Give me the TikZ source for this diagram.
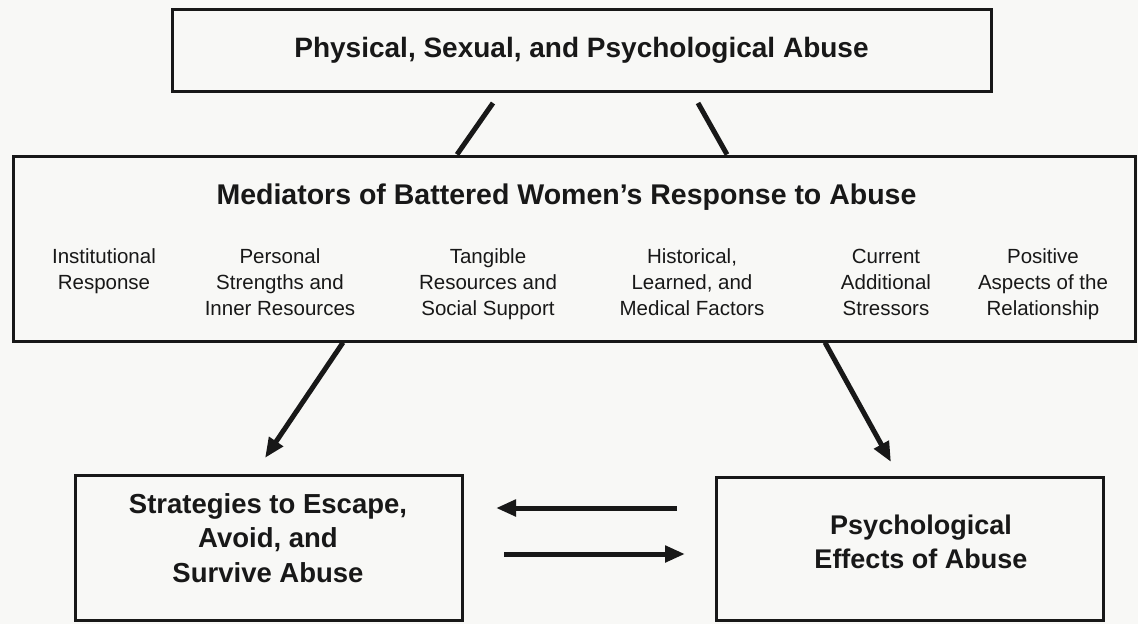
\documentclass[tikz,border=0pt]{standalone}
\usepackage{fontspec}
\setmainfont{Liberation Sans}
\usetikzlibrary{arrows.meta}
\definecolor{paper}{RGB}{248,248,246}
\definecolor{ink}{RGB}{24,24,24}
\tikzset{
  frame/.style={draw=ink, line width=3pt, inner sep=0pt},
  headline/.style={font=\bfseries\fontsize{28}{33}\selectfont, text=ink, inner sep=0pt},
  factor/.style={font=\fontsize{20.5}{26}\selectfont, text=ink, align=center, inner sep=0pt, anchor=base},
  outcome/.style={font=\bfseries\fontsize{27.5}{34.5}\selectfont, text=ink, align=center, inner sep=0pt, anchor=base},
  link/.style={draw=ink, line width=5pt},
  flow/.style={link, -{Triangle[length=20pt,width=16pt]}},
}
\begin{document}
\begin{tikzpicture}[x=1pt,y=-1pt]
  \fill[paper] (0,0) rectangle (1138,624);
  \useasboundingbox (0,0) rectangle (1138,624);

  % source box
  \node[frame, headline, minimum width=819pt, minimum height=82pt] (abuse) at (581.5,50)
    {Physical, Sexual, and Psychological Abuse};

  % mediator panel (multi-line texts are anchored at the baseline of their last line)
  \node[frame, minimum width=1122pt, minimum height=185pt] (med) at (574,248.5) {};
  \node[headline, font=\bfseries\fontsize{28.5}{33}\selectfont, anchor=base] (medtitle) at (566.5,204)
    {Mediators of Battered Women's Response to Abuse};
  \node[factor] (f1) at (104,289)  {Institutional\\Response};
  \node[factor] (f2) at (280,315)  {Personal\\Strengths and\\Inner Resources};
  \node[factor] (f3) at (488,315)  {Tangible\\Resources and\\Social Support};
  \node[factor] (f4) at (692,315)  {Historical,\\Learned, and\\Medical Factors};
  \node[factor] (f5) at (886,315)  {Current\\Additional\\Stressors};
  \node[factor] (f6) at (1043,315) {Positive\\Aspects of the\\Relationship};

  % outcome boxes
  \node[frame, minimum width=387pt, minimum height=145pt] (strat) at (268.5,547.5) {};
  \node[outcome] (strattext) at (268,582) {Strategies to Escape,\\Avoid, and\\Survive Abuse};
  \node[frame, minimum width=387pt, minimum height=143pt] (effects) at (909.5,548.5) {};
  \node[outcome, font=\bfseries\fontsize{27}{34}\selectfont] (effectstext) at (921,568) {Psychological\\Effects of Abuse};

  % free ends of the connectors
  \coordinate (linkL) at (493,103);
  \coordinate (linkLfoot) at (457,0);
  \coordinate (linkR) at (698,103);
  \coordinate (linkRfoot) at (727,0);
  \coordinate (downL) at (343,0);
  \coordinate (tipL) at (265,458);
  \coordinate (downR) at (825,0);
  \coordinate (tipR) at (891,462);
  \coordinate (backTail) at (677,508);
  \coordinate (backTip) at (496,508);
  \coordinate (fwdTail) at (504,554);
  \coordinate (fwdTip) at (685,554);

  % abuse feeds the mediators
  \draw[link] (linkL) -- (linkLfoot |- med.north);
  \draw[link] (linkR) -- (linkRfoot |- med.north);

  % mediators shape both outcomes
  \draw[flow] (downL |- med.south) -- (tipL);
  \draw[flow] (downR |- med.south) -- (tipR);

  % outcomes influence each other
  \draw[flow] (backTail) -- (backTip);
  \draw[flow] (fwdTail) -- (fwdTip);
\end{tikzpicture}
\end{document}
